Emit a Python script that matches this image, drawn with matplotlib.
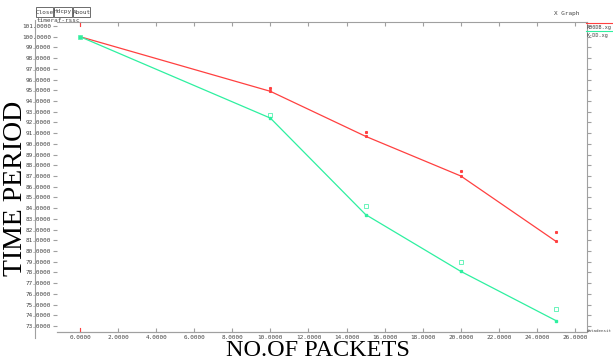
import matplotlib
matplotlib.use("Agg")
import matplotlib.pyplot as plt
from matplotlib.lines import Line2D

# packets vs time period, two traces
packets = [0, 10, 15, 20, 25]
rdb_line = [100.0, 94.9, 90.7, 87.0, 80.9]
rdb_marks = [100.0, 95.2, 91.1, 87.5, 81.75]
kdd_line = [100.0, 92.4, 83.4, 78.1, 73.5]
kdd_marks = [100.0, 92.7, 84.2, 79.0, 74.6]

xticks = [0, 2, 4, 6, 8, 10, 12, 14, 16, 18, 20, 22, 24, 26]
yticks = list(range(73, 102))

red = "#ff4040"
green = "#2ef0a0"
grey = "#a0a0a0"
txt = "#444444"
mono = "DejaVu Sans Mono"

W, H = 613, 364
fig = plt.figure(figsize=(W / 100, H / 100), dpi=100)
ax = fig.add_axes([57 / W, 1 - 332 / H, (587 - 57) / W, (332 - 22) / H])

ax.plot(packets, rdb_line, color=red, lw=0.9, marker="s", ms=1.2)
ax.plot(packets, rdb_marks, ls="none", color=red, marker="s", ms=1.2)
ax.plot(packets, kdd_line, color=green, lw=0.9, marker="s", ms=1.5)
ax.plot(packets, kdd_marks, ls="none", color=green, marker="s", ms=2.2,
        mfc="none", mew=0.5)

ax.set_xlim(-1.21, 26.63)
ax.set_ylim(72.44, 101.37)
ax.set_xticks(xticks)
ax.set_xticklabels([f"{v:.4f}" for v in xticks], fontsize=4.3, family=mono,
                   color=txt)
ax.set_yticks(yticks)
ax.set_yticklabels([f"{v:.4f}" for v in yticks], fontsize=4.3, family=mono,
                   color=txt)
ax.tick_params(axis="both", direction="in", length=3, color=grey, pad=2,
               top=True, right=True)
ax.tick_params(axis="y", direction="out", pad=1)
for s in ax.spines.values():
    s.set_color(grey)
    s.set_linewidth(0.8)
ax.spines["left"].set_visible(False)

# red ticks at x=0 on bottom and top edge
ax.plot([0, 0], [72.44, 72.85], color=red, lw=0.8, clip_on=False)
ax.plot([0, 0], [101.0, 101.37], color=red, lw=0.8, clip_on=False)

# outer frame line of the xgraph window
fig.add_artist(Line2D([35 / W, 35 / W], [1 - 20 / H, 1 - 338 / H], color=grey, lw=0.8))
fig.add_artist(Line2D([57 / W, 587 / W], [1 - 332 / H, 1 - 332 / H], color=grey, lw=0.8))

# buttons
for label, x0, w in [("Close", 36, 17), ("Hdcpy", 54, 18), ("About", 73, 17)]:
    fig.add_artist(plt.Rectangle((x0 / W, 1 - 17 / H), w / W, 10 / H,
                                 fill=False, ec="#555555", lw=0.6))
    fig.text((x0 + w / 2) / W, 1 - 12 / H, label, fontsize=4.3, family=mono,
             ha="center", va="center", color=txt)
fig.text(37 / W, 1 - 20 / H, "timeraf-rssc", fontsize=4.3, family=mono,
         va="center", color=txt)
fig.text(567 / W, 1 - 13 / H, "X Graph", fontsize=4.3, family=mono,
         ha="center", va="center", color=txt)

# legend at right
fig.add_artist(Line2D([586 / W, 613 / W], [1 - 23 / H, 1 - 23 / H], color=red, lw=0.8))
fig.text(587 / W, 1 - 27 / H, "R00DB.xg", fontsize=3.7, family=mono,
         va="center", color=txt)
fig.add_artist(Line2D([586 / W, 613 / W], [1 - 31 / H, 1 - 31 / H], color=green, lw=0.8))
fig.text(587 / W, 1 - 35 / H, "K-DD.xg", fontsize=3.7, family=mono,
         va="center", color=txt)
fig.text(587 / W, 1 - 331 / H, "datadensit", fontsize=3.0, family=mono,
         va="center", color=txt)

# big axis titles
fig.text(16 / W, 1 - 188 / H, "TIME PERIOD", rotation=90, family="Liberation Serif",
         fontsize=20, ha="center", va="center")
fig.text(318 / W, 1 - 351 / H, "NO.OF PACKETS", family="Liberation Serif",
         fontsize=17.5, ha="center", va="center")

fig.savefig("out.png", dpi=100)
